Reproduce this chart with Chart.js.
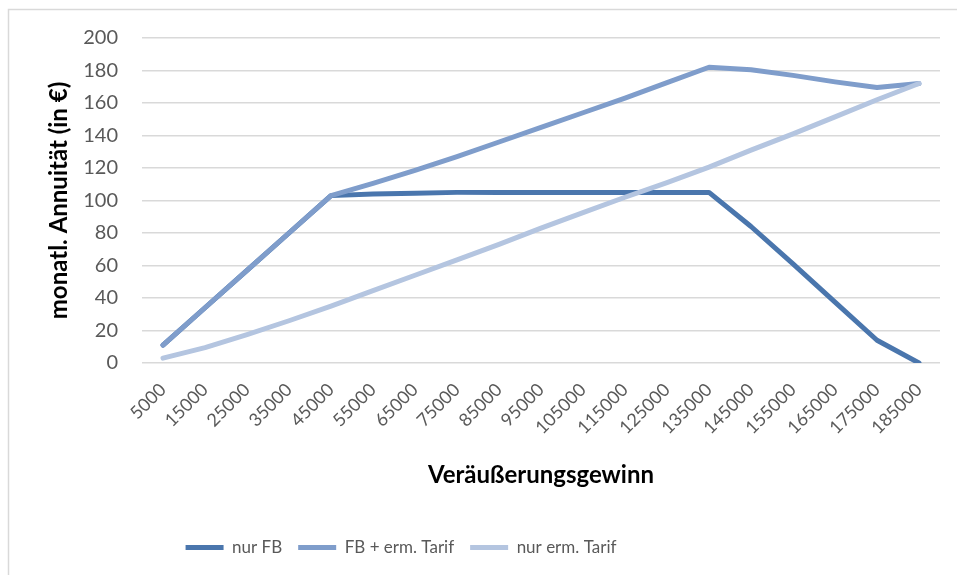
<!DOCTYPE html>
<html>
<head>
<meta charset="utf-8">
<script src="https://cdn.jsdelivr.net/npm/chart.js@4/dist/chart.umd.min.js"></script>
<style>
  html, body { margin: 0; padding: 0; background: #fff; }
  #wrap { width: 957px; height: 575px; position: relative; }
</style>
</head>
<body>
<div id="wrap"><canvas id="chart"></canvas></div>
<script>
// Veräußerungsgewinn (x) vs. monatliche Annuität (y)
const categories = ['5000', '15000', '25000', '35000', '45000', '55000', '65000', '75000', '85000', '95000',
    '105000', '115000', '125000', '135000', '145000', '155000', '165000', '175000', '185000'];

const nurFB = [11, 34, 57, 80, 103, 104, 104.5, 105, 105, 105, 105, 105, 105, 105, 84, 61, 37.5, 14, 0];
const fbErmTarif = [11, 34, 57, 80, 103, 110.5, 118.5, 127, 136, 145, 154, 163, 172.5, 182, 180.5, 177, 173, 169.5, 172];
const nurErmTarif = [3, 9.5, 17.5, 26, 35, 44.5, 54, 63.5, 73, 83, 92.5, 102, 111, 120.5, 131, 141, 151.5, 162, 172];

const yTicks = { min: 0, max: 200, step: 20 };

const COLORS = {
    dark: '#4a76ad',
    mid: '#7f9dcb',
    light: '#b4c5e0',
    grid: '#d9d9d9',
    text: '#595959'
};

Chart.defaults.font.family = 'Lato, "Open Sans", sans-serif';

// light grey chart frame (left and top edge)
const frame = {
    id: 'frame',
    beforeDraw(chart) {
        const ctx = chart.ctx;
        ctx.save();
        ctx.strokeStyle = COLORS.grid;
        ctx.lineWidth = 1.5;
        ctx.beginPath();
        ctx.moveTo(8.5, chart.height);
        ctx.lineTo(8.5, 9.5);
        ctx.lineTo(chart.width, 9.5);
        ctx.stroke();
        ctx.restore();
    }
};

// move the legend row to the left
const legendShift = {
    id: 'legendShift',
    afterLayout(chart) {
        const lg = chart.legend;
        const centre = 409;
        const pad = lg.options.labels.padding;
        const d = (lg.left + lg.right + pad) / 2 - centre;
        lg.left -= d;
        lg.right -= d;
    }
};

function lineDataset(label, data, color, order) {
    return {
        label: label,
        data: data,
        borderColor: color,
        backgroundColor: color,
        borderWidth: 5,
        borderCapStyle: 'round',
        borderJoinStyle: 'round',
        pointRadius: 0,
        pointHoverRadius: 0,
        tension: 0,
        fill: false,
        order: order
    };
}

new Chart(document.getElementById('chart'), {
    type: 'line',
    data: {
        labels: categories,
        datasets: [
            lineDataset('nur FB', nurFB, COLORS.dark, 3),
            lineDataset('FB + erm. Tarif', fbErmTarif, COLORS.mid, 2),
            lineDataset('nur erm. Tarif', nurErmTarif, COLORS.light, 1)
        ]
    },
    options: {
        responsive: true,
        maintainAspectRatio: false,
        animation: false,
        layout: {
            padding: { left: 10, right: 17, top: 38, bottom: 9 }
        },
        plugins: {
            legend: {
                position: 'bottom',
                labels: {
                    usePointStyle: true,
                    pointStyle: 'line',
                    pointStyleWidth: 38,
                    padding: 16,
                    color: COLORS.text,
                    font: { size: 17 },
                    // keep the series order, not the draw order
                    sort: (a, b) => a.datasetIndex - b.datasetIndex
                }
            },
            tooltip: { enabled: true }
        },
        scales: {
            x: {
                offset: true,
                grid: { display: false, drawTicks: false },
                border: { display: false },
                ticks: {
                    autoSkip: false,
                    minRotation: 45,
                    maxRotation: 45,
                    padding: 16,
                    color: COLORS.text,
                    font: { size: 18 }
                },
                title: {
                    display: true,
                    text: 'Veräußerungsgewinn',
                    color: '#000',
                    font: { size: 24, weight: 'bold' },
                    padding: { top: 0, bottom: 33 }
                },
                afterFit(scale) { scale.height = 160; }
            },
            y: {
                min: yTicks.min,
                max: yTicks.max,
                grid: { color: COLORS.grid, lineWidth: 1.5, drawTicks: false },
                border: { display: false },
                ticks: {
                    stepSize: yTicks.step,
                    padding: 24,
                    color: COLORS.text,
                    font: { size: 20 }
                },
                title: {
                    display: true,
                    text: 'monatl. Annuität (in €)',
                    color: '#000',
                    font: { size: 24, weight: 'bold' },
                    padding: { top: 35, bottom: 0 }
                },
                afterFit(scale) { scale.width = 132; }
            }
        }
    },
    plugins: [frame, legendShift]
});
</script>
</body>
</html>
